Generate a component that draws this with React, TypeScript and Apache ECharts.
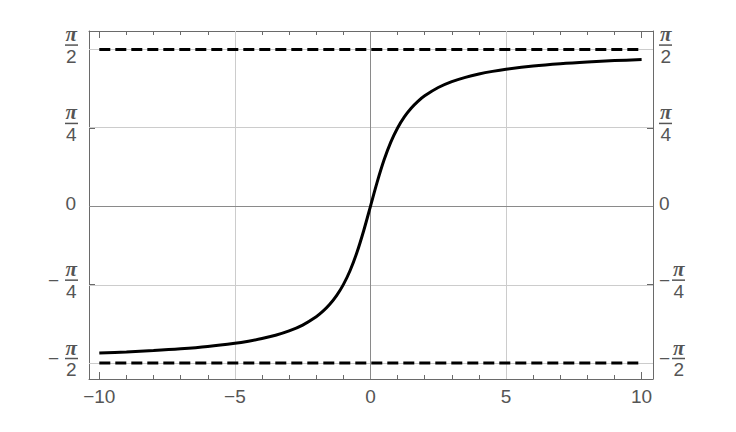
import React, { useEffect, useRef } from "react";
import * as echarts from "echarts";

// Curve samples (x, y)
const xValues = [
  -10, -9, -8, -7, -6, -5, -4.5, -4, -3.5, -3, -2.5, -2, -1.75, -1.5, -1.25, -1, -0.75, -0.5, -0.25, 0,
  0.25, 0.5, 0.75, 1, 1.25, 1.5, 1.75, 2, 2.5, 3, 3.5, 4, 4.5, 5, 6, 7, 8, 9, 10,
];
const yValues = [
  -1.4711, -1.4601, -1.4464, -1.4289, -1.4056, -1.3734, -1.3521, -1.3258, -1.2925, -1.249, -1.1903, -1.1071,
  -1.0517, -0.9828, -0.8961, -0.7854, -0.6435, -0.4636, -0.245, 0, 0.245, 0.4636, 0.6435, 0.7854, 0.8961,
  0.9828, 1.0517, 1.1071, 1.1903, 1.249, 1.2925, 1.3258, 1.3521, 1.3734, 1.4056, 1.4289, 1.4464, 1.4601, 1.4711,
];

const xMajorTicks = [-10, -5, 0, 5, 10];
const xMinorTicks = [-10, -9, -8, -7, -6, -5, -4, -3, -2, -1, 0, 1, 2, 3, 4, 5, 6, 7, 8, 9, 10];
const yTicks = [-Math.PI / 2, -Math.PI / 4, 0, Math.PI / 4, Math.PI / 2];
const xGridLines = [-5, 5];
const yGridLines = [-Math.PI / 2, -Math.PI / 4, Math.PI / 4, Math.PI / 2];
const asymptoteY = [Math.PI / 2, -Math.PI / 2];
const asymptoteX = [-10, 10];

const X_MIN = -10.38;
const X_MAX = 10.42;
const Y_MIN = -1.731;
const Y_MAX = 1.757;

const LABEL = "#555555";
const FRAME = "#6a6a6a";

function fracLabel(v: number, side: "left" | "right") {
  const k = Math.round(v / (Math.PI / 4));
  if (k === 0) return "{z|0}";
  const den = Math.abs(k) === 2 ? "2" : "4";
  if (k > 0) return `{n|π}\n{bar| }\n{d|${den}}`;
  if (side === "left") return `{n|π}\n{m|−}{bar| }\n{d|${den}}`;
  return `{nn|π}\n{m|−}{bar| }\n{dn|${den}}`;
}

const PI_FONT = {
  fontFamily: "Liberation Serif",
  fontStyle: "italic",
  fontWeight: "bold",
  fontSize: 21,
  lineHeight: 18,
  color: LABEL,
};
const DIG_FONT = { fontFamily: "Liberation Sans", fontSize: 19, lineHeight: 18, color: LABEL };

function richLeft() {
  return {
    n: { ...PI_FONT, padding: [0, 1, 0, 0] },
    d: { ...DIG_FONT, padding: [0, 1.5, 0, 0] },
    bar: { width: 13, height: 1.5, lineHeight: 4, fontSize: 1, backgroundColor: LABEL },
    m: { fontFamily: "Liberation Sans", fontSize: 19, lineHeight: 4, color: LABEL, padding: [0, 6, 0, 0] },
    z: { fontFamily: "Liberation Sans", fontSize: 19, lineHeight: 18, color: LABEL, padding: [4, 2, 0, 0] },
  };
}

function richRight() {
  return {
    n: { ...PI_FONT, padding: [0, 0, 0, 1] },
    d: { ...DIG_FONT, padding: [0, 0, 0, 1.5] },
    nn: { ...PI_FONT, padding: [0, 0, 0, 14] },
    dn: { ...DIG_FONT, padding: [0, 0, 0, 14.5] },
    bar: { width: 13, height: 1.5, lineHeight: 4, fontSize: 1, backgroundColor: LABEL },
    m: { fontFamily: "Liberation Sans", fontSize: 19, lineHeight: 4, color: LABEL, width: 13 },
    z: { fontFamily: "Liberation Sans", fontSize: 19, lineHeight: 18, color: LABEL, padding: [4, 0, 0, 0] },
  };
}

function xAxisDef(position: "top" | "bottom", major: boolean, showLine: boolean, showLabel: boolean) {
  return {
    type: "value",
    position,
    min: X_MIN,
    max: X_MAX,
    offset: 0,
    axisLine: { show: showLine, onZero: false, lineStyle: { color: FRAME, width: 1 } },
    axisTick: {
      show: true,
      inside: true,
      length: major ? 7 : 4,
      customValues: major ? xMajorTicks : xMinorTicks,
      lineStyle: { color: FRAME, width: 1 },
    },
    axisLabel: {
      show: showLabel,
      customValues: xMajorTicks,
      margin: 8,
      color: LABEL,
      fontFamily: "Liberation Sans",
      fontSize: 19,
      formatter: (v: number) => (v < 0 ? "−" + Math.abs(v) : String(v)),
    },
    splitLine: { show: false },
  };
}

function yAxisDef(position: "left" | "right") {
  return {
    type: "value",
    position,
    min: Y_MIN,
    max: Y_MAX,
    offset: 0,
    axisLine: { show: true, onZero: false, lineStyle: { color: FRAME, width: 1 } },
    axisTick: { show: true, inside: true, length: 6, customValues: yTicks, lineStyle: { color: FRAME, width: 1 } },
    axisLabel: {
      show: true,
      customValues: yTicks,
      margin: position === "left" ? 11 : 6,
      padding: [0, 0, 9, 0],
      fontSize: 19,
      formatter: (v: number) => fracLabel(v, position),
      rich: position === "left" ? richLeft() : richRight(),
    },
    splitLine: { show: false },
  };
}

export default function App() {
  const ref = useRef<HTMLDivElement>(null);

  useEffect(() => {
    if (!ref.current) return;
    const chart = echarts.init(ref.current, undefined, { renderer: "svg" });
    const curve = xValues.map((x, i) => [x, yValues[i]]);
    chart.setOption({
      animation: false,
      backgroundColor: "#ffffff",
      grid: { left: 89, right: 83, top: 31, bottom: 53, containLabel: false },
      xAxis: [
        xAxisDef("bottom", true, true, true),
        xAxisDef("bottom", false, false, false),
        xAxisDef("top", true, true, false),
        xAxisDef("top", false, false, false),
      ],
      yAxis: [yAxisDef("left"), yAxisDef("right")],
      series: [
        {
          type: "line",
          data: [],
          z: 1,
          silent: true,
          markLine: {
            z: 1,
            silent: true,
            symbol: "none",
            label: { show: false },
            lineStyle: { color: "#cccccc", width: 1, type: "solid" },
            data: [...xGridLines.map((x) => ({ xAxis: x })), ...yGridLines.map((y) => ({ yAxis: y }))],
          },
        },
        {
          type: "line",
          data: [],
          z: 2,
          silent: true,
          markLine: {
            z: 2,
            silent: true,
            symbol: "none",
            label: { show: false },
            lineStyle: { color: "#8a8a8a", width: 1, type: "solid" },
            data: [{ xAxis: 0 }, { yAxis: 0 }],
          },
        },
        ...asymptoteY.map((y) => ({
          type: "line",
          z: 3,
          silent: true,
          showSymbol: false,
          data: asymptoteX.map((x) => [x, y]),
          lineStyle: { color: "#000000", width: 3, type: [11, 5] },
        })),
        {
          type: "line",
          z: 4,
          silent: true,
          showSymbol: false,
          smooth: 0.3,
          data: curve,
          lineStyle: { color: "#000000", width: 3 },
        },
      ],
    });
    return () => chart.dispose();
  }, []);

  return (
    <div
      ref={ref}
      style={{ position: "fixed", left: 0, top: 0, width: 736, height: 432, background: "#fff" }}
    />
  );
}
